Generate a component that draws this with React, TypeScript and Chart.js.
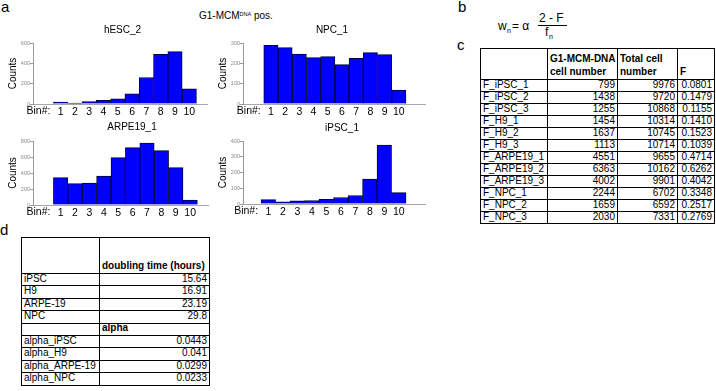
import React, { useEffect, useRef } from 'react';
import { Chart, registerables } from 'chart.js';
Chart.register(...registerables);

const FONT = '"Liberation Sans", Arial, sans-serif';

// ---- histogram data (panel a) ----
const binNumbers = [1, 2, 3, 4, 5, 6, 7, 8, 9, 10];
const hescCounts = [20, 10, 23, 36, 52, 101, 261, 489, 515, 150];
const npcCounts = [289, 277, 246, 228, 233, 194, 225, 253, 243, 68];
const arpeCounts = [342, 267, 275, 362, 592, 717, 775, 679, 467, 62];
const ipscCounts = [28, 13, 20, 22, 30, 41, 54, 159, 374, 72];
const hescTicks = [0, 200, 400, 600];
const npcTicks = [0, 100, 200, 300];
const arpeTicks = [0, 200, 400, 600, 800];
const ipscTicks = [0, 100, 200, 300, 400];

// ---- table c ----
const fNames = ['F_iPSC_1', 'F_iPSC_2', 'F_iPSC_3', 'F_H9_1', 'F_H9_2', 'F_H9_3', 'F_ARPE19_1', 'F_ARPE19_2', 'F_ARPE19_3', 'F_NPC_1', 'F_NPC_2', 'F_NPC_3'];
const g1Counts = ['799', '1438', '1255', '1454', '1637', '1113', '4551', '6363', '4002', '2244', '1659', '2030'];
const totalCounts = ['9976', '9720', '10868', '10314', '10745', '10714', '9655', '10162', '9901', '6702', '6592', '7331'];
const fValues = ['0.0801', '0.1479', '0.1155', '0.1410', '0.1523', '0.1039', '0.4714', '0.6262', '0.4042', '0.3348', '0.2517', '0.2769'];

// ---- table d ----
const cellLines = ['iPSC', 'H9', 'ARPE-19', 'NPC'];
const doublingHours = ['15.64', '16.91', '23.19', '29.8'];
const alphaNames = ['alpha_iPSC', 'alpha_H9', 'alpha_ARPE-19', 'alpha_NPC'];
const alphaValues = ['0.0443', '0.041', '0.0299', '0.0233'];

type HistProps = {
  left: number; top: number; width: number; height: number;
  plotLeft: number; plotTop: number; plotRight: number; plotBottom: number;
  xMin: number; xMax: number; ticks: number[]; counts: number[];
  title: string; titleX: number; titleY: number; countsPad: number;
};

function Histogram(p: HistProps) {
  const ref = useRef<HTMLCanvasElement>(null);
  useEffect(() => {
    const yWidth = p.plotLeft - p.left;
    const xHeight = p.top + p.height - p.plotBottom;
    const extra = {
      id: 'extraText',
      afterDraw(chart: any) {
        const ctx = chart.ctx;
        ctx.save();
        ctx.fillStyle = '#000';
        ctx.font = `10px ${FONT}`;
        ctx.textAlign = 'center';
        ctx.textBaseline = 'middle';
        ctx.fillText(p.title, p.titleX - p.left, p.titleY - p.top);
        const xs = chart.scales.x;
        ctx.font = `10.5px ${FONT}`;
        ctx.textAlign = 'right';
        ctx.textBaseline = 'top';
        ctx.fillText('Bin#:', xs.getPixelForValue(0.5) - 3, xs.top + 2);
        ctx.restore();
      },
    };
    const chart = new Chart(ref.current as HTMLCanvasElement, {
      type: 'bar',
      data: {
        datasets: [{
          data: binNumbers.map((b, i) => ({ x: b, y: p.counts[i] })) as any,
          backgroundColor: '#0000ff',
          borderColor: '#00003c',
          borderWidth: 1,
          barPercentage: 1,
          categoryPercentage: 1,
        }],
      },
      options: {
        animation: false,
        responsive: false,
        maintainAspectRatio: false,
        layout: { padding: { left: 0, top: p.plotTop - p.top, right: p.left + p.width - p.plotRight, bottom: 0 } },
        plugins: { legend: { display: false }, tooltip: { enabled: false }, title: { display: false } },
        scales: {
          x: {
            type: 'linear', min: p.xMin, max: p.xMax,
            grid: { display: false, drawTicks: false, tickLength: 0 },
            border: { display: true, color: '#a8a8a8', width: 1 },
            ticks: { font: { family: FONT, size: 10.5 }, color: '#000', padding: 2, maxRotation: 0, autoSkip: false },
            afterBuildTicks: (s: any) => { s.ticks = binNumbers.map((v) => ({ value: v })); },
            afterFit: (s: any) => { s.height = xHeight; },
          },
          y: {
            min: 0, max: p.ticks[p.ticks.length - 1],
            grid: { display: true, drawOnChartArea: false, drawTicks: true, tickLength: 3, color: '#9a9a9a' },
            border: { display: true, color: '#9a9a9a', width: 1 },
            ticks: { font: { family: FONT, size: 5.5 }, color: '#8a8a8a', padding: 0 },
            afterBuildTicks: (s: any) => { s.ticks = p.ticks.map((v) => ({ value: v })); },
            title: { display: true, text: 'Counts', font: { family: FONT, size: 10 }, color: '#000', padding: { top: p.countsPad, bottom: 0 } },
            afterFit: (s: any) => { s.width = yWidth; },
          },
        },
      } as any,
      plugins: [extra],
    });
    return () => chart.destroy();
  }, []);
  return (
    <canvas ref={ref} width={p.width} height={p.height}
      style={{ position: 'absolute', left: p.left, top: p.top, width: p.width, height: p.height }} />
  );
}

function Txt({ x, y, size, children, bold, style }: any) {
  return (
    <div style={{
      position: 'absolute', left: x, top: y - 0.8465 * size, fontSize: size, lineHeight: `${size}px`,
      fontWeight: bold ? 'bold' : 'normal', whiteSpace: 'nowrap', fontFamily: FONT, color: '#000', ...style,
    }}>{children}</div>
  );
}

type Cell = { text?: string; bold?: boolean; right?: boolean };

function Grid({ x, y, colW, rowH, rows, headLine }: { x: number; y: number; colW: number[]; rowH: number[]; rows: Cell[][]; headLine: number }) {
  const els: any[] = [];
  let top = y;
  rows.forEach((row, r) => {
    let left = x;
    row.forEach((cell, c) => {
      els.push(
        <div key={r + '-' + c} style={{
          position: 'absolute', left, top, width: colW[c] + 1, height: rowH[r] + 1,
          boxSizing: 'border-box', border: '1px solid #000', display: 'flex',
          alignItems: 'flex-end', justifyContent: cell.right ? 'flex-end' : 'flex-start',
          padding: r === 0 ? '0 2px 1px 2px' : '0 2px 1.5px 2px', overflow: 'visible',
        }}>
          <span style={{
            whiteSpace: 'pre', fontSize: 10, lineHeight: r === 0 ? `${headLine}px` : '10px', fontFamily: FONT,
            fontWeight: cell.bold ? 'bold' : 'normal', textAlign: 'left', color: '#000',
          }}>{cell.text || ''}</span>
        </div>
      );
      left += colW[c];
    });
    top += rowH[r];
  });
  return <>{els}</>;
}

export default function App() {
  useEffect(() => { document.body.style.margin = '0'; }, []);

  const tableCRows: Cell[][] = [
    [{}, { text: 'G1-MCM-DNA\ncell number', bold: true }, { text: 'Total cell\nnumber', bold: true }, { text: 'F', bold: true }],
    ...fNames.map((n, i) => [
      { text: n }, { text: g1Counts[i], right: true }, { text: totalCounts[i], right: true }, { text: fValues[i], right: true },
    ]),
  ];
  const tableDRows: Cell[][] = [
    [{}, { text: 'doubling time (hours)', bold: true }],
    ...cellLines.map((n, i) => [{ text: n }, { text: doublingHours[i], right: true }]),
    [{}, { text: 'alpha', bold: true }],
    ...alphaNames.map((n, i) => [{ text: n }, { text: alphaValues[i], right: true }]),
  ];

  return (
    <div style={{ position: 'absolute', left: 0, top: 0, width: 716, height: 391, background: '#fff', fontFamily: FONT, color: '#000', overflow: 'hidden' }}>
      <Txt x={1} y={12} size={15}>a</Txt>
      <Txt x={458} y={12} size={15}>b</Txt>
      <Txt x={457} y={50} size={15}>c</Txt>
      <Txt x={0} y={235} size={15}>d</Txt>

      <Txt x={199} y={19.3} size={10}>
        G1-MCM<span style={{ fontSize: 5.5, position: 'relative', top: -3 }}>DNA</span> pos.
      </Txt>

      <Histogram left={0} top={20} width={215} height={100} plotLeft={33} plotTop={43} plotRight={207} plotBottom={104}
        xMin={-0.318} xMax={10.63} ticks={hescTicks} counts={hescCounts} title="hESC_2" titleX={122.5} titleY={30} countsPad={7.5} />
      <Histogram left={215} top={20} width={225} height={100} plotLeft={243} plotTop={43} plotRight={425} plotBottom={104}
        xMin={-0.32} xMax={11.2} ticks={npcTicks} counts={npcCounts} title="NPC_1" titleX={332} titleY={30} countsPad={2} />
      <Histogram left={0} top={118} width={215} height={102} plotLeft={33} plotTop={141} plotRight={208} plotBottom={205}
        xMin={-0.31} xMax={10.63} ticks={arpeTicks} counts={arpeCounts} title="ARPE19_1" titleX={132} titleY={127.5} countsPad={7.5} />
      <Histogram left={215} top={118} width={225} height={102} plotLeft={243} plotTop={141} plotRight={425} plotBottom={204}
        xMin={-0.12} xMax={11.18} ticks={ipscTicks} counts={ipscCounts} title="iPSC_1" titleX={342} titleY={128} countsPad={2} />

      {/* formula b */}
      <Txt x={498} y={30} size={12}>w</Txt>
      <Txt x={507} y={33} size={7}>n</Txt>
      <Txt x={512} y={30} size={12}>= α</Txt>
      <Txt x={539} y={22} size={12}>2 - F</Txt>
      <div style={{ position: 'absolute', left: 538, top: 25, width: 29, height: 1, background: '#000' }} />
      <Txt x={545} y={36} size={12}>f</Txt>
      <Txt x={549} y={39} size={7}>n</Txt>

      <Grid x={480} y={48} colW={[67, 70, 60, 37]} rowH={[31, ...fNames.map(() => 12)]} rows={tableCRows} headLine={13} />
      <Grid x={21} y={237} colW={[78, 110]} rowH={[36, ...tableDRows.slice(1).map(() => 12.4)]} rows={tableDRows} headLine={12} />
    </div>
  );
}
